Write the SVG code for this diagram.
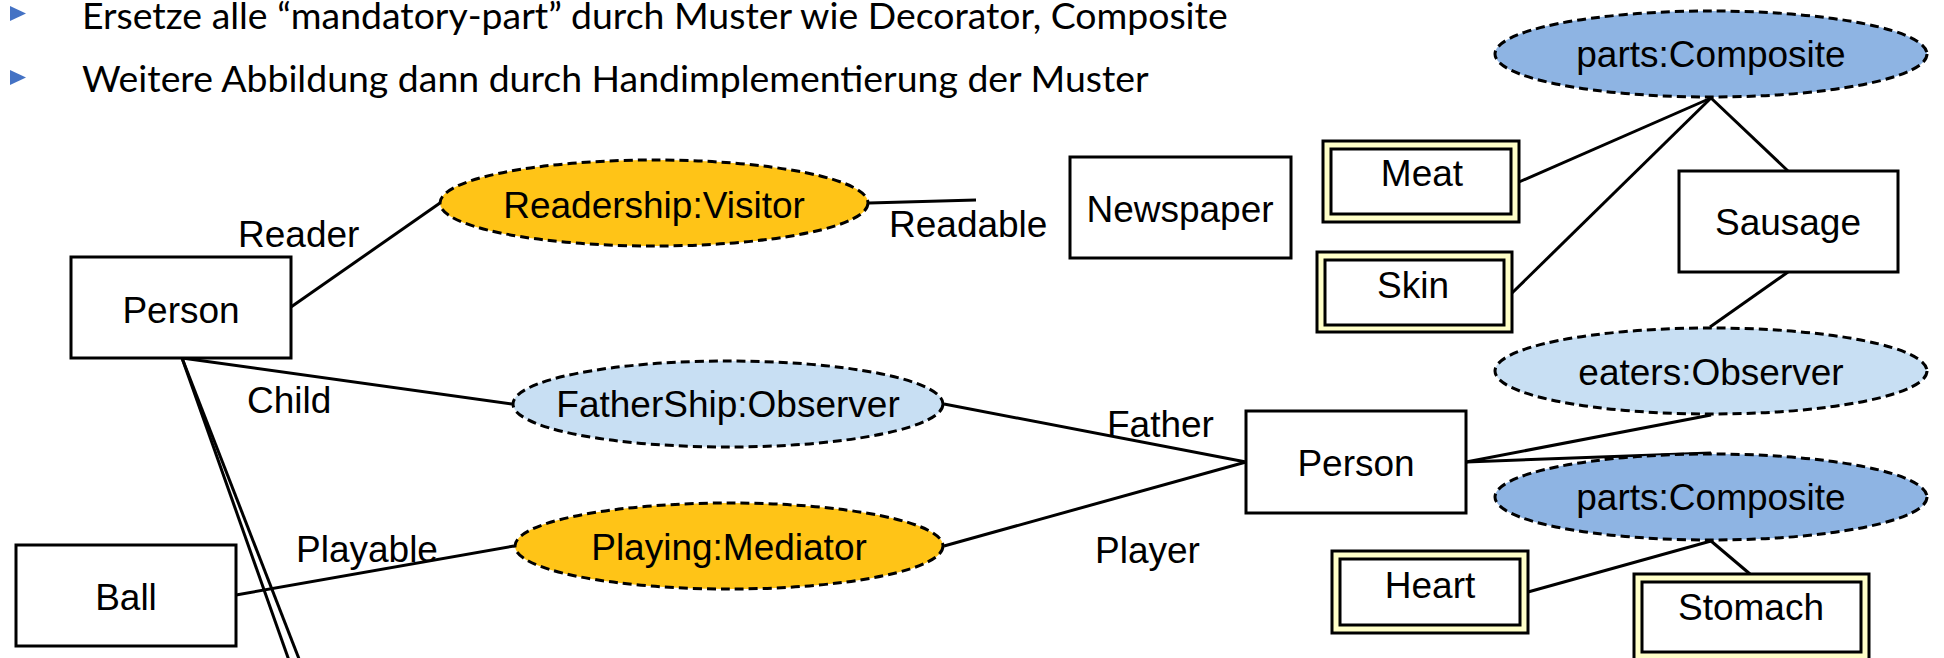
<svg xmlns="http://www.w3.org/2000/svg" width="1944" height="658" viewBox="0 0 1944 658">
<style>
.hdr{font-family:Lato,"Liberation Sans",sans-serif;font-size:37.4px;fill:#000}
.bul{fill:#4472C4}
.box{fill:#fff;stroke:#000;stroke-width:3}
.dbo{fill:#FFFFC8;stroke:#000;stroke-width:3}
.dbi{fill:#fff;stroke:#000;stroke-width:3}
.ell{stroke:#000;stroke-width:3;stroke-dasharray:9 5}
.org{fill:#FFC417}
.lbl{fill:#C8DFF3}
.blu{fill:#8EB4E3}
.t{font-family:"Liberation Sans",Arial,sans-serif;font-size:37px;fill:#000}
.c{text-anchor:middle}
.ln{stroke:#000;stroke-width:3;fill:none}
</style>
<g id="header">
<polygon class="bul" points="10,6 26,13.5 10,21"/>
<text class="hdr" x="82" y="29">Ersetze alle “mandatory-part” durch Muster wie Decorator, Composite</text>
<polygon class="bul" points="10,70 26,77.5 10,85"/>
<text class="hdr" x="82" y="92">Weitere Abbildung dann durch Handimplementierung der Muster</text>
</g>
<g id="connectors">
<line class="ln" x1="291" y1="307" x2="440" y2="203"/>
<line class="ln" x1="869" y1="203" x2="976" y2="200"/>
<line class="ln" x1="182" y1="358" x2="512" y2="404"/>
<line class="ln" x1="944" y1="404" x2="1246" y2="462"/>
<line class="ln" x1="944" y1="546" x2="1246" y2="462"/>
<line class="ln" x1="236" y1="595" x2="514" y2="546"/>
<line class="ln" x1="182" y1="358" x2="303" y2="700"/>
<line class="ln" x1="182" y1="358" x2="315" y2="700"/>
<line class="ln" x1="1711" y1="98" x2="1519" y2="182"/>
<line class="ln" x1="1711" y1="98" x2="1512" y2="293"/>
<line class="ln" x1="1711" y1="98" x2="1788" y2="171"/>
<line class="ln" x1="1788" y1="272" x2="1710" y2="327"/>
<line class="ln" x1="1466" y1="462" x2="1711" y2="415"/>
<line class="ln" x1="1466" y1="462" x2="1711" y2="453"/>
<line class="ln" x1="1711" y1="541" x2="1528" y2="592"/>
<line class="ln" x1="1711" y1="541" x2="1750" y2="574"/>
</g>
<g id="labels">
<text class="t" x="238" y="247">Reader</text>
<text class="t" x="889" y="237">Readable</text>
<text class="t" x="247" y="413">Child</text>
<text class="t" x="1107" y="437">Father</text>
<text class="t" x="296" y="562">Playable</text>
<text class="t" x="1095" y="563">Player</text>
</g>
<g id="person1"><rect class="box" x="71" y="257" width="220" height="101"/><text class="t c" x="181" y="323">Person</text></g>
<g id="ball"><rect class="box" x="16" y="545" width="220" height="101"/><text class="t c" x="126" y="610">Ball</text></g>
<g id="newspaper"><rect class="box" x="1070" y="157" width="221" height="101"/><text class="t c" x="1180" y="222">Newspaper</text></g>
<g id="sausage"><rect class="box" x="1679" y="171" width="219" height="101"/><text class="t c" x="1788" y="235">Sausage</text></g>
<g id="person2"><rect class="box" x="1246" y="411" width="220" height="102"/><text class="t c" x="1356" y="476">Person</text></g>
<g id="readership"><ellipse class="ell org" cx="654" cy="203" rx="214" ry="43"/><text class="t c" x="654" y="218">Readership:Visitor</text></g>
<g id="fathership"><ellipse class="ell lbl" cx="728" cy="404" rx="215" ry="43"/><text class="t c" x="728" y="417">FatherShip:Observer</text></g>
<g id="playing"><ellipse class="ell org" cx="729" cy="546" rx="214" ry="43"/><text class="t c" x="729" y="560">Playing:Mediator</text></g>
<g id="parts1"><ellipse class="ell blu" cx="1711" cy="54" rx="216" ry="43"/><text class="t c" x="1711" y="67">parts:Composite</text></g>
<g id="eaters"><ellipse class="ell lbl" cx="1711" cy="371" rx="216" ry="43"/><text class="t c" x="1711" y="385">eaters:Observer</text></g>
<g id="parts2"><ellipse class="ell blu" cx="1711" cy="497" rx="216" ry="43"/><text class="t c" x="1711" y="510">parts:Composite</text></g>
<g id="meat"><rect class="dbo" x="1323" y="141" width="196" height="81"/><rect class="dbi" x="1331" y="149" width="180" height="65"/><text class="t c" x="1422" y="186">Meat</text></g>
<g id="skin"><rect class="dbo" x="1317" y="252" width="195" height="80"/><rect class="dbi" x="1325" y="260" width="179" height="65"/><text class="t c" x="1413" y="298">Skin</text></g>
<g id="heart"><rect class="dbo" x="1332" y="551" width="196" height="82"/><rect class="dbi" x="1340" y="559" width="180" height="66"/><text class="t c" x="1430" y="598">Heart</text></g>
<g id="stomach"><rect class="dbo" x="1634" y="574" width="235" height="88"/><rect class="dbi" x="1642" y="582" width="219" height="70"/><text class="t c" x="1751" y="620">Stomach</text></g>
</svg>
